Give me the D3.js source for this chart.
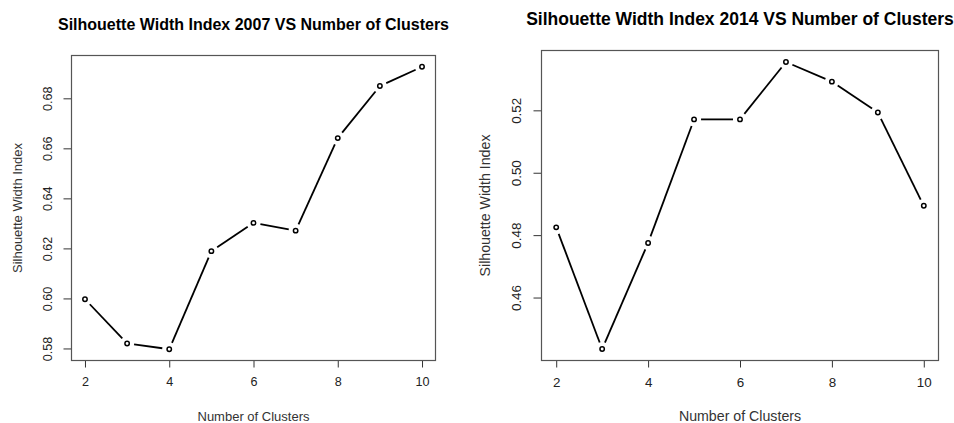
<!DOCTYPE html>
<html>
<head>
<meta charset="utf-8">
<script src="https://cdn.jsdelivr.net/npm/d3@7"></script>
<style>
  body { margin: 0; background: #fff; }
  text { font-family: "Liberation Sans", Arial, sans-serif; }
</style>
</head>
<body>
<div id="chart"></div>
<script>
// number of clusters, shared by both panels
var clusters = [2, 3, 4, 5, 6, 7, 8, 9, 10];
var sil2007 = [0.5997, 0.5820, 0.5797, 0.6189, 0.6302, 0.6271, 0.6641, 0.6849, 0.6926];
var sil2014 = [0.4825, 0.4435, 0.4775, 0.5171, 0.5171, 0.5355, 0.5292, 0.5193, 0.4894];
var xTicks = [2, 4, 6, 8, 10];
var yTicks2007 = [0.58, 0.60, 0.62, 0.64, 0.66, 0.68];
var yTicks2014 = [0.46, 0.48, 0.50, 0.52];

var svg = d3.select("#chart")
  .append("svg")
    .attr("width", 954)
    .attr("height", 423);

// R-style 4% padding round the data range
function padded(ext) {
  var d = (ext[1] - ext[0]) * 0.04;
  return [ext[0] - d, ext[1] + d];
}

function drawPanel(p) {
  var x = d3.scaleLinear()
      .domain(padded(d3.extent(clusters)))
      .range([p.left, p.right]);
  var y = d3.scaleLinear()
      .domain(padded(d3.extent(p.values)))
      .range([p.bottom, p.top]);

  var g = svg.append("g");

  // x axis
  var xa = g.append("g")
      .attr("transform", "translate(0," + p.bottom + ")")
      .call(d3.axisBottom(x).tickValues(xTicks).tickSize(7).tickPadding(p.fs * 0.75).tickFormat(d3.format("d")));
  xa.select(".domain").remove();
  xa.selectAll("line").attr("stroke", "#333");
  xa.selectAll("text").attr("font-size", p.fs).attr("fill", "#222").attr("font-family", "Liberation Sans, Arial, sans-serif");

  // y axis, labels turned parallel to the axis like R
  var ya = g.append("g")
      .attr("transform", "translate(" + p.left + ",0)")
      .call(d3.axisLeft(y).tickValues(p.yTicks).tickSize(8).tickFormat(d3.format(".2f")));
  ya.select(".domain").remove();
  ya.selectAll("line").attr("stroke", "#333");
  ya.selectAll("text")
      .attr("font-size", p.fs)
      .attr("fill", "#222")
      .attr("font-family", "Liberation Sans, Arial, sans-serif")
      .attr("x", null).attr("dy", null)
      .attr("text-anchor", "middle")
      .attr("transform", "translate(" + (p.yLabX - p.left) + ",0) rotate(-90)")
      .attr("y", 0)
      .attr("dominant-baseline", "central");

  // box
  g.append("rect")
      .attr("x", p.left).attr("y", p.top)
      .attr("width", p.right - p.left).attr("height", p.bottom - p.top)
      .attr("fill", "none").attr("stroke", "#555").attr("stroke-width", 1.2);

  // line segments with gaps round the points (type = "b")
  var gap = 7;
  var pts = clusters.map(function (c, i) { return [x(c), y(p.values[i])]; });
  for (var i = 0; i < pts.length - 1; i++) {
    var a = pts[i], b = pts[i + 1];
    var dx = b[0] - a[0], dy = b[1] - a[1];
    var len = Math.sqrt(dx * dx + dy * dy);
    if (len <= 2 * gap) continue;
    var ux = dx / len, uy = dy / len;
    g.append("line")
        .attr("x1", a[0] + ux * gap).attr("y1", a[1] + uy * gap)
        .attr("x2", b[0] - ux * gap).attr("y2", b[1] - uy * gap)
        .attr("stroke", "#000").attr("stroke-width", 1.8);
  }

  g.selectAll("circle")
      .data(p.values)
      .enter()
      .append("circle")
        .attr("cx", function (d, i) { return x(clusters[i]); })
        .attr("cy", function (d) { return y(d); })
        .attr("r", 2.2)
        .attr("fill", "#fff")
        .attr("stroke", "#000")
        .attr("stroke-width", 1.5);

  // titles
  g.append("text")
      .attr("x", (p.left + p.right) / 2).attr("y", p.titleY)
      .attr("text-anchor", "middle")
      .attr("dominant-baseline", "central")
      .attr("font-weight", "bold")
      .attr("font-size", p.titleFs)
      .attr("fill", "#000")
      .text(p.title);
  g.append("text")
      .attr("x", (p.left + p.right) / 2).attr("y", p.xTitleY)
      .attr("text-anchor", "middle")
      .attr("dominant-baseline", "central")
      .attr("font-size", p.axFs)
      .attr("fill", "#333")
      .text("Number of Clusters");
  g.append("text")
      .attr("transform", "translate(" + p.yTitleX + "," + ((p.top + p.bottom) / 2) + ") rotate(-90)")
      .attr("text-anchor", "middle")
      .attr("dominant-baseline", "central")
      .attr("font-size", p.axFs)
      .attr("fill", "#333")
      .text("Silhouette Width Index");
}

drawPanel({
  values: sil2007, yTicks: yTicks2007,
  title: "Silhouette Width Index 2007 VS Number of Clusters",
  left: 71.5, right: 435.5, top: 55.5, bottom: 360.5,
  fs: 12.6, axFs: 13, titleFs: 16, titleY: 24, xTitleY: 416, yLabX: 48, yTitleX: 17
});

drawPanel({
  values: sil2014, yTicks: yTicks2014,
  title: "Silhouette Width Index 2014 VS Number of Clusters",
  left: 541.5, right: 938.5, top: 50.5, bottom: 360.5,
  fs: 13.4, axFs: 14.2, titleFs: 17.5, titleY: 19, xTitleY: 416, yLabX: 516.5, yTitleX: 485
});
</script>
</body>
</html>
